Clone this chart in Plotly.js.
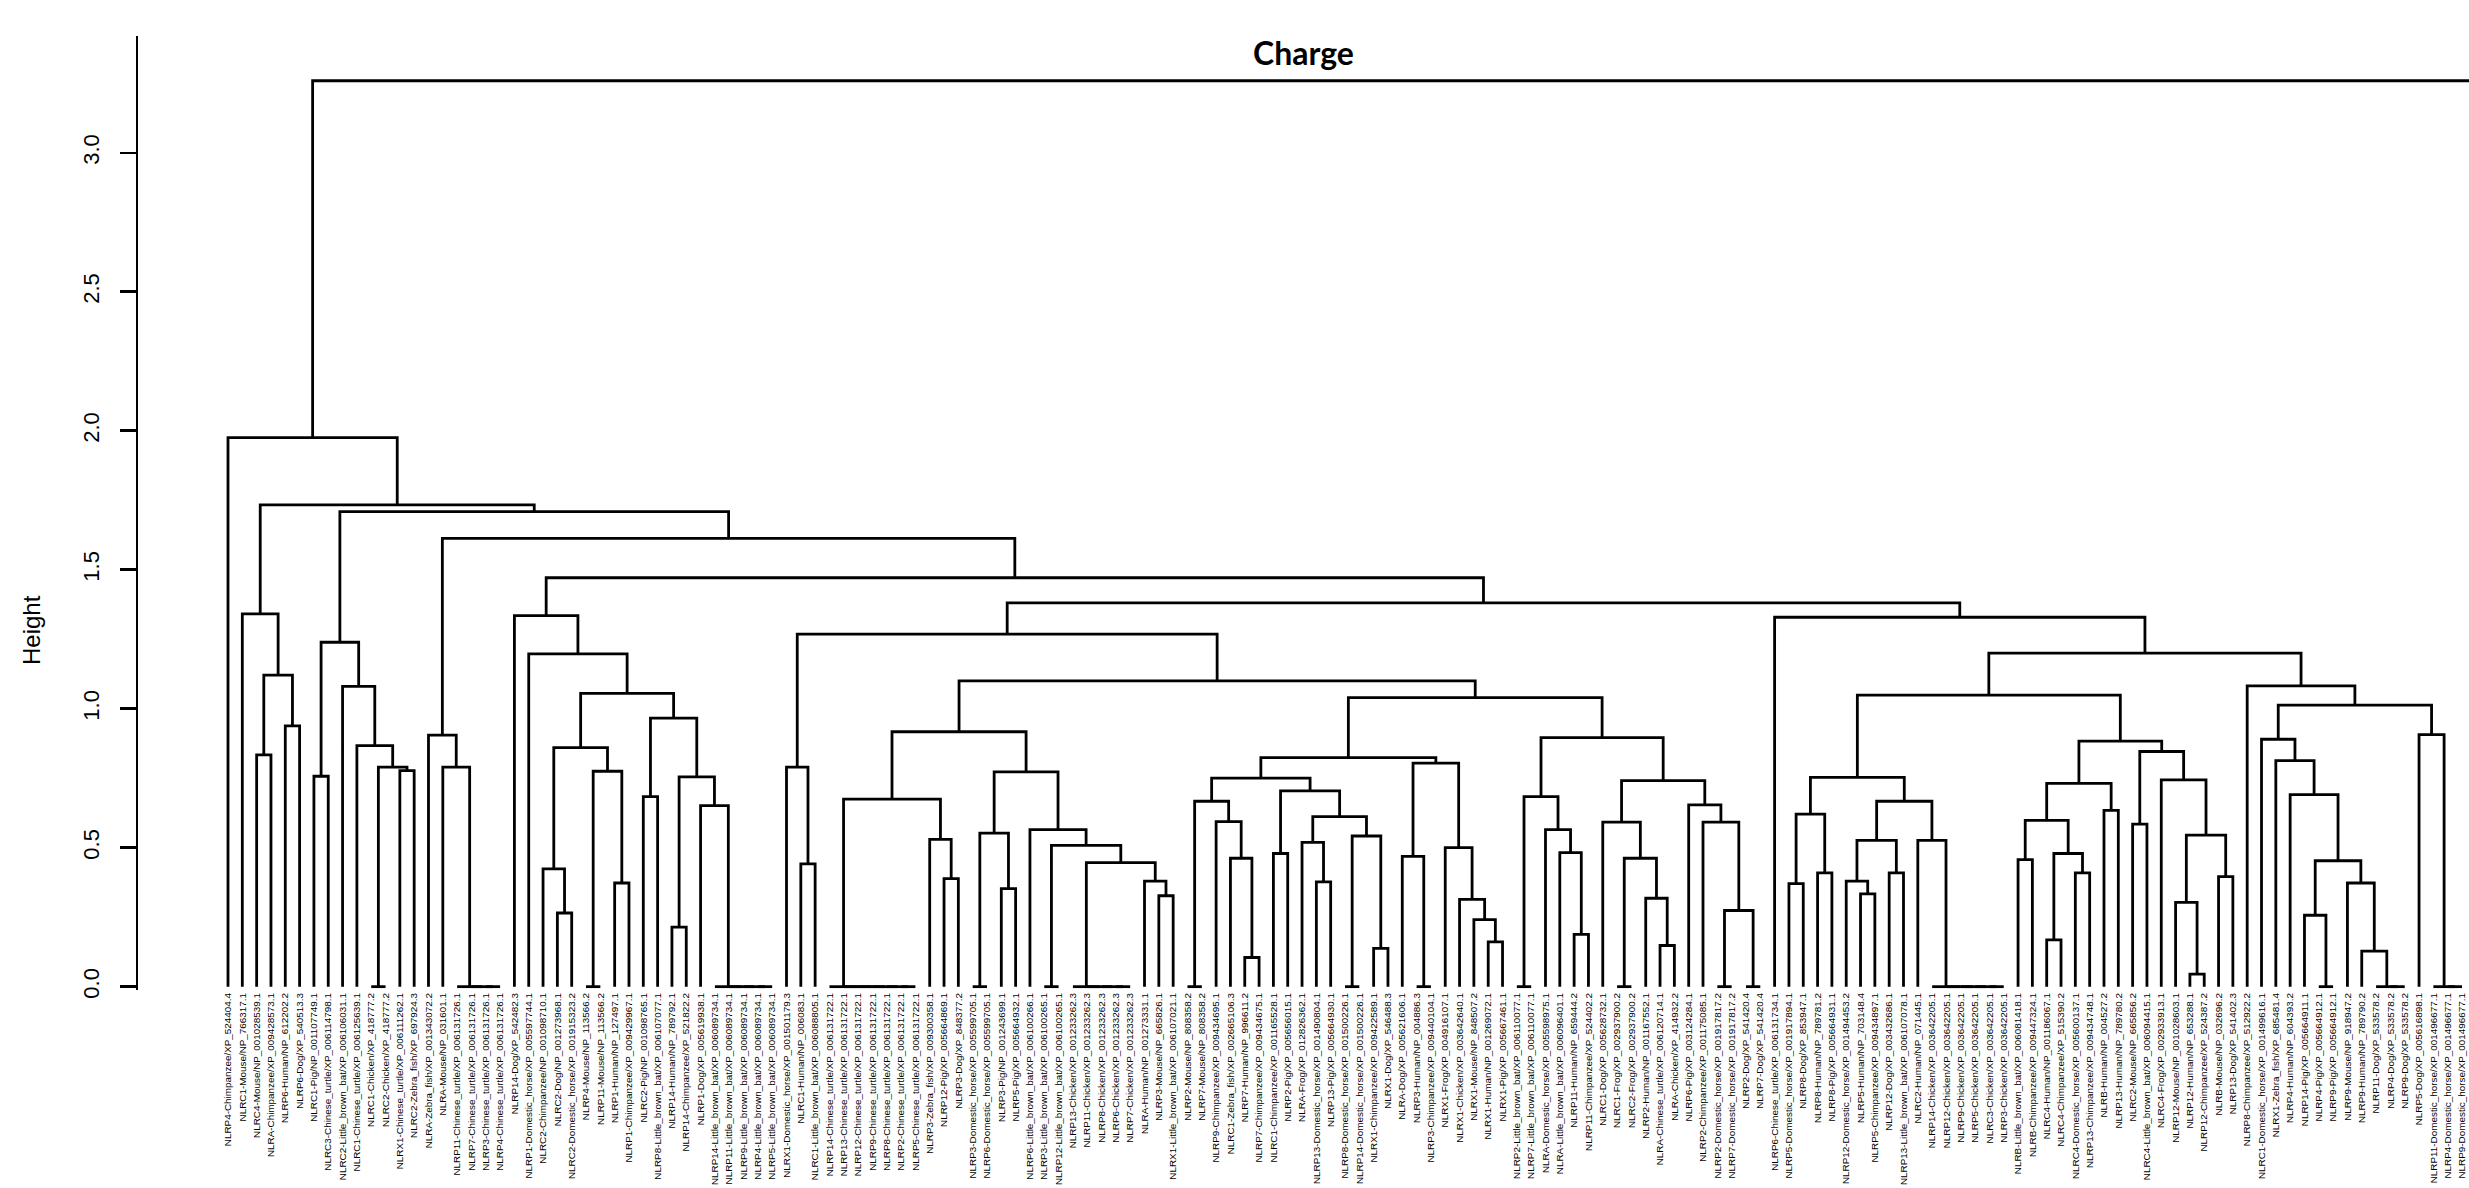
<!DOCTYPE html>
<html>
<head>
<meta charset="utf-8">
<script src="https://cdn.plot.ly/plotly-3.0.1.min.js"></script>
<style>
html,body{margin:0;padding:0;background:#fff;}
#chart{width:2469px;height:1188px;}
</style>
</head>
<body>
<div id="chart"></div>
<script>
// ---------- leaf labels, in plotted order ----------
const leafLabels = [
"NLRP4-Chimpanzee/XP_524404.4","NLRC1-Mouse/NP_766317.1","NLRC4-Mouse/NP_001028539.1","NLRA-Chimpanzee/XP_009428573.1",
"NLRP6-Human/NP_612202.2","NLRP6-Dog/XP_540513.3","NLRC1-Pig/NP_001107749.1","NLRC3-Chinese_turtle/XP_006114798.1",
"NLRC2-Little_brown_bat/XP_006106031.1","NLRC1-Chinese_turtle/XP_006125639.1","NLRC1-Chicken/XP_418777.2","NLRC2-Chicken/XP_418777.2",
"NLRX1-Chinese_turtle/XP_006111262.1","NLRC2-Zebra_fish/XP_697924.3","NLRA-Zebra_fish/XP_001343072.2","NLRA-Mouse/NP_031601.1",
"NLRP11-Chinese_turtle/XP_006131726.1","NLRP7-Chinese_turtle/XP_006131726.1","NLRP3-Chinese_turtle/XP_006131726.1","NLRP4-Chinese_turtle/XP_006131726.1",
"NLRP14-Dog/XP_542482.3","NLRP1-Domestic_horse/XP_005597744.1","NLRC2-Chimpanzee/NP_001098710.1","NLRC2-Dog/NP_001273968.1",
"NLRC2-Domestic_horse/XP_001915323.2","NLRP4-Mouse/NP_113566.2","NLRP11-Mouse/NP_113566.2","NLRP1-Human/NP_127497.1",
"NLRP1-Chimpanzee/XP_009429967.1","NLRC2-Pig/NP_001098765.1","NLRP8-Little_brown_bat/XP_006107077.1","NLRP14-Human/NP_789792.1",
"NLRP14-Chimpanzee/XP_521822.2","NLRP1-Dog/XP_005619938.1","NLRP14-Little_brown_bat/XP_006089734.1","NLRP11-Little_brown_bat/XP_006089734.1",
"NLRP9-Little_brown_bat/XP_006089734.1","NLRP4-Little_brown_bat/XP_006089734.1","NLRP5-Little_brown_bat/XP_006089734.1","NLRX1-Domestic_horse/XP_001501179.3",
"NLRC1-Human/NP_006083.1","NLRC1-Little_brown_bat/XP_006088805.1","NLRP14-Chinese_turtle/XP_006131722.1","NLRP13-Chinese_turtle/XP_006131722.1",
"NLRP12-Chinese_turtle/XP_006131722.1","NLRP9-Chinese_turtle/XP_006131722.1","NLRP8-Chinese_turtle/XP_006131722.1","NLRP2-Chinese_turtle/XP_006131722.1",
"NLRP5-Chinese_turtle/XP_006131722.1","NLRP3-Zebra_fish/XP_009300358.1","NLRP12-Pig/XP_005664869.1","NLRP3-Dog/XP_848377.2",
"NLRP3-Domestic_horse/XP_005599705.1","NLRP6-Domestic_horse/XP_005599705.1","NLRP3-Pig/NP_001243699.1","NLRP5-Pig/XP_005664932.1",
"NLRP6-Little_brown_bat/XP_006100266.1","NLRP3-Little_brown_bat/XP_006100265.1","NLRP12-Little_brown_bat/XP_006100265.1","NLRP13-Chicken/XP_001233262.3",
"NLRP11-Chicken/XP_001233262.3","NLRP8-Chicken/XP_001233262.3","NLRP6-Chicken/XP_001233262.3","NLRP7-Chicken/XP_001233262.3",
"NLRA-Human/NP_001273331.1","NLRP3-Mouse/NP_665826.1","NLRX1-Little_brown_bat/XP_006107021.1","NLRP2-Mouse/NP_808358.2",
"NLRP7-Mouse/NP_808358.2","NLRP9-Chimpanzee/XP_009434695.1","NLRC1-Zebra_fish/XP_002665106.3","NLRP7-Human/NP_996611.2",
"NLRP7-Chimpanzee/XP_009434675.1","NLRC1-Chimpanzee/XP_001165528.1","NLRP2-Pig/XP_005656015.1","NLRA-Frog/XP_012826362.1",
"NLRP13-Domestic_horse/XP_001490804.1","NLRP13-Pig/XP_005664930.1","NLRP8-Domestic_horse/XP_001500226.1","NLRP14-Domestic_horse/XP_001500226.1",
"NLRX1-Chimpanzee/XP_009422589.1","NLRX1-Dog/XP_546488.3","NLRA-Dog/XP_005621606.1","NLRP3-Human/NP_004886.3",
"NLRP3-Chimpanzee/XP_009440104.1","NLRX1-Frog/XP_004916107.1","NLRX1-Chicken/XP_003642640.1","NLRX1-Mouse/NP_848507.2",
"NLRX1-Human/NP_001269072.1","NLRX1-Pig/XP_005667461.1","NLRP2-Little_brown_bat/XP_006110077.1","NLRP7-Little_brown_bat/XP_006110077.1",
"NLRA-Domestic_horse/XP_005598975.1","NLRA-Little_brown_bat/XP_006096401.1","NLRP11-Human/NP_659444.2","NLRP11-Chimpanzee/XP_524402.2",
"NLRC1-Dog/XP_005628732.1","NLRC1-Frog/XP_002937900.2","NLRC2-Frog/XP_002937900.2","NLRP2-Human/NP_001167552.1",
"NLRA-Chinese_turtle/XP_006120714.1","NLRA-Chicken/XP_414932.2","NLRP6-Pig/XP_003124284.1","NLRP2-Chimpanzee/XP_001175085.1",
"NLRP2-Domestic_horse/XP_001917817.2","NLRP7-Domestic_horse/XP_001917817.2","NLRP2-Dog/XP_541420.4","NLRP7-Dog/XP_541420.4",
"NLRP6-Chinese_turtle/XP_006131734.1","NLRP5-Domestic_horse/XP_001917894.1","NLRP8-Dog/XP_853947.1","NLRP8-Human/NP_789781.2",
"NLRP8-Pig/XP_005664931.1","NLRP12-Domestic_horse/XP_001494453.2","NLRP5-Human/NP_703148.4","NLRP5-Chimpanzee/XP_009434897.1",
"NLRP12-Dog/XP_003432686.1","NLRP13-Little_brown_bat/XP_006107078.1","NLRC2-Human/NP_071445.1","NLRP14-Chicken/XP_003642205.1",
"NLRP12-Chicken/XP_003642205.1","NLRP9-Chicken/XP_003642205.1","NLRP5-Chicken/XP_003642205.1","NLRC3-Chicken/XP_003642205.1",
"NLRP3-Chicken/XP_003642205.1","NLRB-Little_brown_bat/XP_006081418.1","NLRB-Chimpanzee/XP_009447324.1","NLRC4-Human/NP_001186067.1",
"NLRC4-Chimpanzee/XP_515390.2","NLRC4-Domestic_horse/XP_005600137.1","NLRP13-Chimpanzee/XP_009434748.1","NLRB-Human/NP_004527.2",
"NLRP13-Human/NP_789780.2","NLRC2-Mouse/NP_665856.2","NLRC4-Little_brown_bat/XP_006094415.1","NLRC4-Frog/XP_002933913.1",
"NLRP12-Mouse/NP_001028603.1","NLRP12-Human/NP_653288.1","NLRP12-Chimpanzee/XP_524387.2","NLRB-Mouse/NP_032696.2",
"NLRP13-Dog/XP_541402.3","NLRP8-Chimpanzee/XP_512922.2","NLRC1-Domestic_horse/XP_001499616.1","NLRX1-Zebra_fish/XP_685481.4",
"NLRP4-Human/NP_604393.2","NLRP14-Pig/XP_005664911.1","NLRP4-Pig/XP_005664912.1","NLRP9-Pig/XP_005664912.1",
"NLRP9-Mouse/NP_918947.2","NLRP9-Human/NP_789790.2","NLRP11-Dog/XP_533578.2","NLRP4-Dog/XP_533578.2",
"NLRP9-Dog/XP_533578.2","NLRP5-Dog/XP_005616898.1","NLRP11-Domestic_horse/XP_001496677.1","NLRP4-Domestic_horse/XP_001496677.1",
"NLRP9-Domestic_horse/XP_001496677.1"
];

// ---------- merge tree: node = [height, left, right]; a number = leaf (1-based) ----------
const clusterA  = [1.341, 2, [1.121, [0.834, 3, 4], [0.938, 5, 6]]];
const clusterB1 = [1.239, [0.757, 7, 8], [1.08, 9, [0.867, 10, [0.79, [0, 11, 12], [0.777, 13, 14]]]]];
const clusterX1 = [0.905, 15, [0.79, 16, [0, 17, [0, 18, [0, 19, 20]]]]];
const clusterP  = [1.335, 21, [1.197, 22, [1.055,
                    [0.86, [0.424, 23, [0.265, 24, 25]], [0.775, [0, 26, 27], [0.373, 28, 29]]],
                    [0.966, [0.684, 30, 31], [0.755, [0.214, 32, 33], [0.651, 34, [0, 35, [0, 36, [0, 37, [0, 38, 39]]]]]]]]]];
const clusterQ1a = [0.79, 40, [0.442, 41, 42]];
const zero43 = [0, 43, [0, 44, [0, 45, [0, 46, [0, 47, [0, 48, 49]]]]]];
const zero60 = [0, 60, [0, 61, [0, 62, [0, 63, 64]]]];
const clusterQ1bL = [0.917,
                    [0.675, zero43, [0.53, 50, [0.389, 51, 52]]],
                    [0.773, [0.552, [0, 53, 54], [0.353, 55, 56]],
                            [0.565, 57, [0.508, [0, 58, 59], [0.446, zero60, [0.38, 65, [0.327, 66, 67]]]]]]];
const cluster857 = [0.824,
                    [0.75, [0.667, [0, 68, 69], [0.594, 70, [0.462, 71, [0.105, 72, 73]]]],
                           [0.704, [0.479, 74, 75], [0.612, [0.519, 76, [0.377, 77, 78]], [0.542, [0, 79, 80], [0.138, 81, 82]]]]],
                    [0.804, [0.469, 83, [0, 84, 85]], [0.50, 86, [0.314, 87, [0.241, 88, [0.161, 89, 90]]]]]];
const cluster1019 = [0.896,
                    [0.684, [0, 91, 92], [0.565, 93, [0.482, 94, [0.188, 95, 96]]]],
                    [0.741, [0.592, 97, [0.462, [0, 98, 99], [0.318, 100, [0.148, 101, 102]]]],
                            [0.654, 103, [0.592, 104, [0.274, [0, 105, 106], [0, 107, 108]]]]]];
const clusterQ1 = [1.268, clusterQ1a, [1.10, clusterQ1bL, [1.04, cluster857, cluster1019]]];
const zero120 = [0, 120, [0, 121, [0, 122, [0, 123, [0, 124, 125]]]]];
const cluster1262L = [0.753,
                    [0.621, [0.371, 110, 111], [0.409, 112, 113]],
                    [0.667, [0.526, [0.38, 114, [0.334, 115, 116]], [0.409, 117, 118]], [0.526, 119, zero120]]];
const cluster1262R = [0.883,
                    [0.731, [0.598, [0.457, 126, 127], [0.479, [0.168, 128, 129], [0.409, 130, 131]]], [0.634, 132, 133]],
                    [0.846, [0.585, 134, 135], [0.744, 136, [0.545, [0.303, 137, [0.045, 138, 139]], [0.396, 140, 141]]]]];
const cluster1460 = [1.082, 142, [1.013,
                    [0.89, 143, [0.813, 144, [0.691, 145, [0.453, [0.257, 146, [0, 147, 148]],
                                                          [0.373, 149, [0.128, 150, [0, 151, [0, 152, 153]]]]]]]],
                    [0.907, 154, [0, 155, [0, 156, 157]]]]];
const clusterQ2 = [1.329, 109, [1.20, [1.049, cluster1262L, cluster1262R], cluster1460]];
const clusterC  = [1.709, clusterB1, [1.613, clusterX1, [1.471, clusterP, [1.381, clusterQ1, clusterQ2]]]];
const rootLeft  = [1.975, 1, [1.733, clusterA, clusterC]];
const rootHeight = 3.259;   // root merge; its right branch lies beyond the visible area

// ---------- build segments ----------
const xRange = [-5.285, 157.489];
const yRange = [-0.012, 3.42];
const segX = [], segY = [];
const leafOrder = [];
function place(node){
  if (typeof node === 'number'){ leafOrder.push(node); return {x: leafOrder.length, h: 0}; }
  const h = node[0];
  const L = place(node[1]), R = place(node[2]);
  segX.push(L.x, L.x, R.x, R.x, null);
  segY.push(L.h, h, h, R.h, null);
  return {x: (L.x + R.x) / 2, h: h};
}
const rootLeftPos = place(rootLeft);
segX.push(rootLeftPos.x, rootLeftPos.x, xRange[1] + 10, null);
segY.push(rootLeftPos.h, rootHeight, rootHeight, null);

const leafTickVals = leafOrder.map((_, i) => i + 1);
const leafTickText = leafOrder.map(k => leafLabels[k - 1]);

const yTicks = [0, 0.5, 1.0, 1.5, 2.0, 2.5, 3.0];

const trace = {
  type: 'scatter', mode: 'lines', x: segX, y: segY,
  line: {color: '#000', width: 2.8}, hoverinfo: 'skip', showlegend: false
};

const layout = {
  width: 2469, height: 1188,
  margin: {l: 138, r: 0, t: 36, b: 198, pad: 0},
  paper_bgcolor: '#fff', plot_bgcolor: '#fff',
  showlegend: false,
  title: {
    text: '<b>Charge</b>',
    font: {family: 'Lato, "Open Sans", sans-serif', size: 32, color: '#000'},
    x: 0.5, xref: 'paper', xanchor: 'center',
    y: 1 - 54 / 1188, yref: 'container', yanchor: 'middle'
  },
  xaxis: {
    range: xRange, fixedrange: true,
    tickmode: 'array', tickvals: leafTickVals, ticktext: leafTickText,
    tickangle: -90, ticks: '', showgrid: false, zeroline: false, showline: false,
    tickfont: {family: '"Liberation Sans", Arial, sans-serif', size: 9.9, color: '#000'},
    automargin: false
  },
  yaxis: {
    range: yRange, fixedrange: true,
    tickmode: 'array', tickvals: yTicks, ticktext: yTicks.map(v => v.toFixed(1)),
    tickangle: -90, ticks: 'outside', ticklen: 16, tickwidth: 2.5, tickcolor: '#000',
    showline: true, linewidth: 2.5, linecolor: '#000',
    showgrid: false, zeroline: false,
    tickfont: {family: '"Liberation Sans", Arial, sans-serif', size: 22, color: '#000'},
    ticklabelstandoff: 12,
    automargin: false
  },
  annotations: [{
    text: 'Height', textangle: -90, showarrow: false,
    xref: 'paper', yref: 'paper',
    x: (31 - 138) / 2331, y: (990 - 630) / 954, xanchor: 'center', yanchor: 'middle',
    font: {family: '"Liberation Sans", Arial, sans-serif', size: 24, color: '#000'}
  }]
};

Plotly.newPlot('chart', [trace], layout, {displayModeBar: false, staticPlot: true});
</script>
</body>
</html>
